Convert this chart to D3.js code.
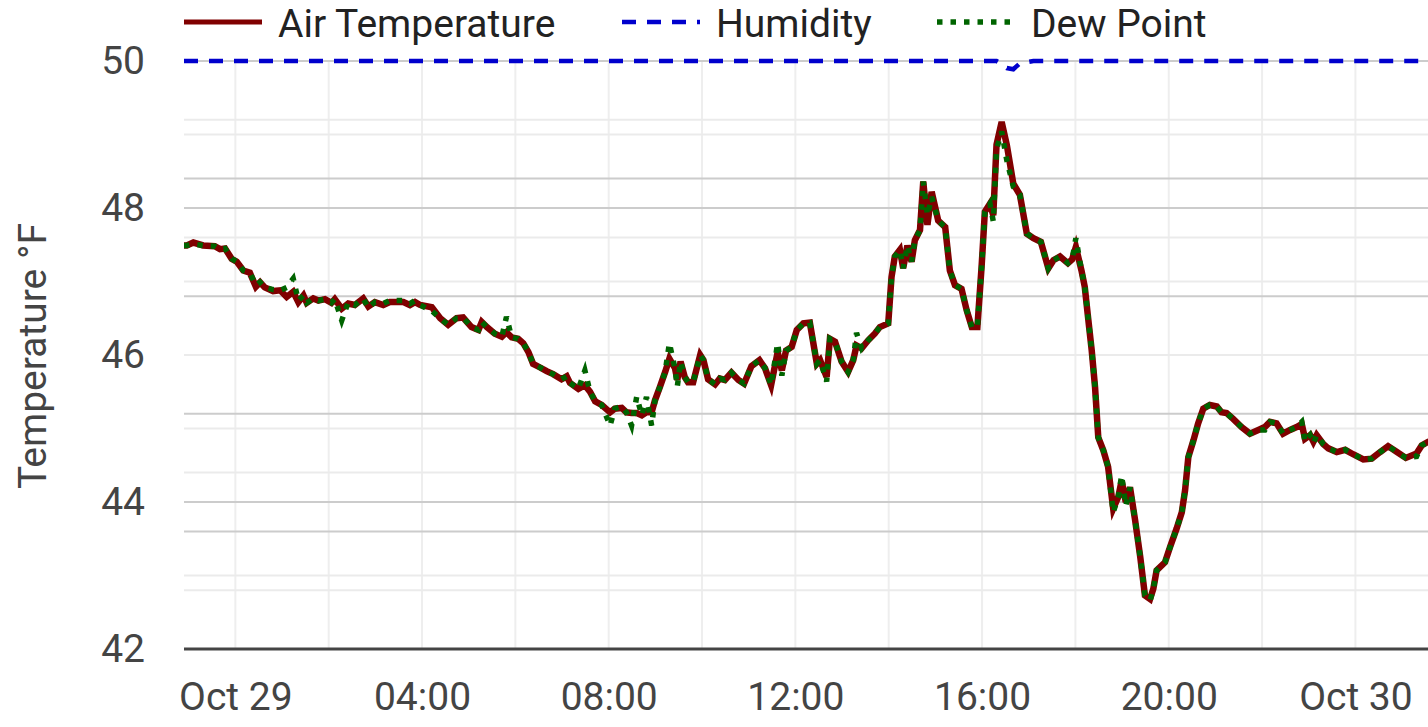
<!DOCTYPE html>
<html>
<head>
<meta charset="utf-8">
<script src="https://cdn.jsdelivr.net/npm/d3@7"></script>
<style>
  html, body { margin: 0; padding: 0; background: #fff; }
  svg { display: block; font-family: Roboto, "Noto Sans", sans-serif; }
</style>
</head>
<body>
<svg id="chart" width="1428" height="727"></svg>
<script>
// ---------- DATA (hours from Oct 29 00:00) ----------
const hours = [-1.10,-1.04,-0.90,-0.69,-0.44,-0.33,-0.22,-0.08,0.03,0.17,0.31,0.44,0.53,0.63,0.81,0.96,1.10,1.24,1.35,1.46,1.53,1.67,1.78,1.92,2.06,2.13,2.28,2.42,2.56,2.74,2.85,2.99,3.17,3.31,3.60,3.74,3.85,3.96,4.21,4.39,4.56,4.74,4.88,5.06,5.21,5.28,5.39,5.56,5.71,5.81,5.92,6.06,6.17,6.28,6.38,6.53,6.67,6.81,6.99,7.10,7.17,7.35,7.49,7.60,7.71,7.85,8.03,8.13,8.28,8.38,8.49,8.60,8.71,8.81,8.92,8.99,9.10,9.21,9.30,9.42,9.47,9.54,9.63,9.70,9.81,9.96,10.03,10.13,10.28,10.38,10.49,10.63,10.78,10.90,11.06,11.23,11.35,11.48,11.62,11.71,11.80,11.92,12.03,12.17,12.31,12.46,12.53,12.67,12.74,12.85,12.99,13.13,13.24,13.31,13.42,13.56,13.70,13.81,13.99,14.06,14.13,14.24,14.31,14.40,14.49,14.56,14.67,14.74,14.83,14.92,15.06,15.21,15.31,15.42,15.56,15.67,15.78,15.90,15.99,16.06,16.17,16.24,16.31,16.42,16.53,16.67,16.81,16.96,17.10,17.26,17.42,17.53,17.67,17.84,17.93,18.01,18.13,18.20,18.27,18.35,18.42,18.49,18.60,18.70,18.81,18.92,18.99,19.08,19.17,19.28,19.39,19.49,19.60,19.67,19.74,19.92,20.03,20.17,20.28,20.35,20.42,20.53,20.63,20.74,20.88,21.03,21.13,21.24,21.38,21.56,21.74,21.92,22.06,22.17,22.31,22.45,22.60,22.74,22.85,22.92,23.03,23.10,23.17,23.31,23.42,23.60,23.78,23.95,24.17,24.35,24.53,24.70,24.89,25.08,25.31,25.42,25.56,25.80];

const airTemp = [47.49,47.49,47.53,47.49,47.48,47.44,47.45,47.31,47.27,47.15,47.12,46.93,46.99,46.92,46.87,46.88,46.79,46.86,46.72,46.81,46.71,46.77,46.74,46.76,46.71,46.76,46.63,46.70,46.68,46.77,46.66,46.72,46.68,46.72,46.72,46.68,46.72,46.68,46.65,46.50,46.41,46.50,46.51,46.38,46.34,46.45,46.38,46.29,46.25,46.31,46.24,46.22,46.16,46.04,45.88,45.83,45.78,45.74,45.67,45.71,45.62,45.54,45.59,45.50,45.37,45.32,45.22,45.27,45.28,45.22,45.21,45.21,45.18,45.22,45.22,45.38,45.57,45.77,45.95,45.82,45.66,45.91,45.70,45.63,45.63,46.00,45.93,45.67,45.60,45.68,45.66,45.76,45.66,45.61,45.85,45.93,45.82,45.59,46.04,45.79,46.06,46.11,46.34,46.43,46.44,45.88,45.93,45.70,46.22,46.18,45.91,45.77,45.93,46.13,46.09,46.20,46.29,46.38,46.43,47.06,47.34,47.43,47.18,47.49,47.27,47.56,47.70,48.36,47.77,48.22,47.83,47.74,47.15,46.95,46.90,46.61,46.38,46.38,47.20,47.95,48.06,47.90,48.86,49.17,48.86,48.33,48.18,47.65,47.59,47.54,47.18,47.29,47.34,47.25,47.30,47.47,47.15,46.93,46.52,46.06,45.57,44.88,44.70,44.48,43.91,44.07,44.29,44.00,44.20,43.75,43.25,42.73,42.68,42.82,43.07,43.18,43.39,43.64,43.86,44.16,44.61,44.84,45.07,45.27,45.32,45.30,45.22,45.21,45.13,45.02,44.93,44.98,45.02,45.09,45.07,44.93,44.98,45.02,45.06,44.86,44.91,44.82,44.91,44.79,44.73,44.68,44.71,44.65,44.58,44.59,44.68,44.76,44.68,44.60,44.66,44.77,44.82,44.85];

const dewPoint = [47.49,47.49,47.51,47.49,47.48,47.44,47.45,47.31,47.27,47.15,47.12,46.95,46.99,46.92,46.89,46.88,46.92,47.04,46.74,46.81,46.71,46.77,46.74,46.76,46.71,46.76,46.47,46.72,46.68,46.77,46.64,46.72,46.70,46.74,46.74,46.70,46.74,46.68,46.60,46.50,46.41,46.50,46.51,46.38,46.34,46.45,46.38,46.29,46.25,46.52,46.24,46.22,46.16,46.04,45.88,45.83,45.78,45.74,45.67,45.71,45.62,45.54,45.79,45.50,45.37,45.32,45.04,45.27,45.30,45.22,45.04,45.43,45.18,45.43,45.04,45.38,45.57,45.77,46.16,45.82,45.57,45.91,45.70,45.63,45.63,46.00,45.93,45.67,45.60,45.68,45.66,45.76,45.66,45.61,45.85,45.93,45.82,45.59,46.16,45.72,46.06,46.11,46.34,46.43,46.44,45.88,45.93,45.64,46.22,46.18,45.91,45.77,45.93,46.30,46.09,46.20,46.29,46.38,46.43,47.06,47.34,47.43,47.18,47.49,47.27,47.56,47.70,48.36,47.90,48.15,47.83,47.74,47.15,46.95,46.90,46.61,46.38,46.38,47.20,47.95,48.06,47.82,48.80,49.04,48.65,48.29,48.18,47.65,47.59,47.54,47.18,47.29,47.34,47.25,47.30,47.59,47.15,46.93,46.52,46.06,45.57,44.88,44.70,44.48,43.86,44.07,44.36,43.95,44.20,43.75,43.25,42.73,42.66,42.82,43.07,43.18,43.39,43.64,43.86,44.16,44.61,44.84,45.07,45.27,45.32,45.30,45.22,45.21,45.13,45.02,44.93,44.98,44.98,45.09,45.07,44.93,44.98,45.02,45.09,44.82,44.91,44.80,44.91,44.79,44.73,44.68,44.71,44.65,44.58,44.59,44.68,44.76,44.68,44.60,44.62,44.77,44.82,44.85];

// Humidity (%), on a secondary 0-100 axis
const humidityHours = [-1.10,16.31,16.42,16.53,16.67,16.81,16.96,17.10,25.80];
const humidity = [100,100,99.5,98.8,98.6,99.6,99.8,100,100];

const yTicks = [42,44,46,48,50];
const yMinorTicks = [43,45,47,49];
const y2Major = [20,40,60,80];
const y2Minor = [10,30,50,70,90];

const seriesNames = ["Air Temperature","Humidity","Dew Point"];

// ---------- LAYOUT ----------
const svg = d3.select("#chart");
const W = 1428, H = 727;
const pLeft = 184, pTop = 61, pBottom = 649;
const base = Date.UTC(2023, 9, 29, 0, 0);
const toDate = h => new Date(base + h * 3600e3);
const pxPerHour = 46.67;
const hStart = -1.10, hEnd = 27;

const x = d3.scaleUtc()
  .domain([toDate(hStart), toDate(hEnd)])
  .range([pLeft, pLeft + (hEnd - hStart) * pxPerHour]);
const y = d3.scaleLinear().domain([42, 50]).range([pBottom, pTop]);
const y2 = d3.scaleLinear().domain([0, 100]).range([pBottom, pTop]);

const tickColor = "#444";
const fontSize = 39;

svg.append("defs").append("clipPath").attr("id", "plotClip")
  .append("rect").attr("x", pLeft).attr("y", pTop - 12).attr("width", W - pLeft).attr("height", pBottom - pTop + 12);

const grid = svg.append("g");
grid.selectAll("line.v").data(x.ticks(d3.utcHour.every(2)).filter(d => x(d) > pLeft + 2))
  .join("line")
  .attr("x1", d => x(d)).attr("x2", d => x(d))
  .attr("y1", pTop).attr("y2", pBottom)
  .attr("stroke", "#eeeeee").attr("stroke-width", 2);

grid.selectAll("line.tmin").data(yMinorTicks).join("line")
  .attr("x1", pLeft).attr("x2", W).attr("y1", d => y(d)).attr("y2", d => y(d))
  .attr("stroke", "#ebebeb").attr("stroke-width", 2);
const g1 = svg.append("g");
g1.selectAll("line").data(yTicks).join("line")
  .attr("x1", pLeft).attr("x2", W).attr("y1", d => y(d)).attr("y2", d => y(d))
  .attr("stroke", "#cccccc").attr("stroke-width", 2);
const g2 = svg.append("g");
g2.selectAll("line").data(y2Major).join("line")
  .attr("x1", pLeft).attr("x2", W).attr("y1", d => y2(d)).attr("y2", d => y2(d))
  .attr("stroke", "#cccccc").attr("stroke-width", 2);
const g3 = svg.append("g");
g3.selectAll("line").data(y2Minor).join("line")
  .attr("x1", pLeft).attr("x2", W).attr("y1", d => y2(d)).attr("y2", d => y2(d))
  .attr("stroke", "#ebebeb").attr("stroke-width", 2);

svg.append("line").attr("x1", pLeft).attr("x2", W).attr("y1", pBottom).attr("y2", pBottom)
  .attr("stroke", "#444").attr("stroke-width", 3);

const fmt = d => (d.getUTCHours() === 0 ? d3.utcFormat("%b %d")(d) : d3.utcFormat("%H:%M")(d));
const xAxis = svg.append("g").attr("transform", `translate(0,${pBottom})`)
  .call(d3.axisBottom(x).ticks(d3.utcHour.every(4)).tickFormat(fmt).tickSize(0).tickPadding(33));
xAxis.select(".domain").remove();
xAxis.selectAll("text").attr("font-size", fontSize).attr("fill", tickColor).attr("font-family", "Roboto");

const yAxis = svg.append("g").attr("transform", `translate(${pLeft},0)`)
  .call(d3.axisLeft(y).tickValues(yTicks).tickSize(0).tickPadding(39));
yAxis.select(".domain").remove();
yAxis.selectAll("text").attr("font-size", fontSize).attr("fill", tickColor).attr("font-family", "Roboto");

svg.append("text")
  .attr("transform", `translate(46,356) rotate(-90)`)
  .attr("text-anchor", "middle")
  .attr("font-size", fontSize).attr("fill", tickColor)
  .text("Temperature °F");

const plot = svg.append("g").attr("clip-path", "url(#plotClip)");
const idx = d3.range(hours.length);
const lineAir = d3.line().x(i => x(toDate(hours[i]))).y(i => y(airTemp[i]));
const lineDew = d3.line().x(i => x(toDate(hours[i]))).y(i => y(dewPoint[i]));
const lineHum = d3.line().x(i => x(toDate(humidityHours[i]))).y(i => y2(humidity[i]));

plot.append("path").attr("d", lineHum(d3.range(humidity.length)))
  .attr("fill", "none").attr("stroke", "#0000cd").attr("stroke-width", 4.5)
  .attr("stroke-dasharray", "14,11");
plot.append("path").attr("d", lineAir(idx))
  .attr("fill", "none").attr("stroke", "#800000").attr("stroke-width", 6.5)
  .attr("stroke-linejoin", "miter").attr("stroke-miterlimit", 4);
plot.append("path").attr("d", lineDew(idx))
  .attr("fill", "none").attr("stroke", "#006400").attr("stroke-width", 5.5)
  .attr("stroke-linejoin", "miter").attr("stroke-miterlimit", 4)
  .attr("stroke-dasharray", "5.5,8");

const legendX = [184, 622, 937];
const legendStyle = [
  {stroke: "#800000", width: 5, dash: null},
  {stroke: "#0000cd", width: 4.5, dash: "14,11"},
  {stroke: "#006400", width: 5.5, dash: "5.5,8"}
];
const lg = svg.append("g");
seriesNames.forEach((name, i) => {
  lg.append("line").attr("x1", legendX[i]).attr("x2", legendX[i] + 78)
    .attr("y1", 22).attr("y2", 22)
    .attr("stroke", legendStyle[i].stroke).attr("stroke-width", legendStyle[i].width)
    .attr("stroke-dasharray", legendStyle[i].dash);
  lg.append("text").attr("x", legendX[i] + 94).attr("y", 37)
    .attr("font-size", fontSize).attr("fill", "#222").text(name);
});
</script>
</body>
</html>
